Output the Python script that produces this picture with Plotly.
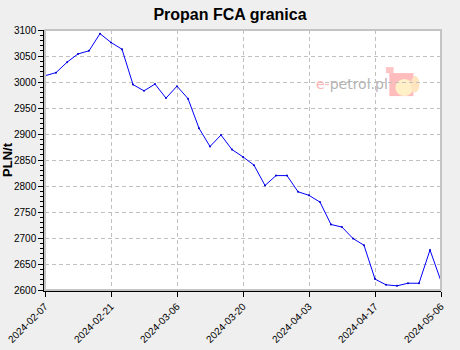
import plotly.graph_objects as go

dates = [
    "2024-02-07", "2024-02-09", "2024-02-12", "2024-02-14", "2024-02-16", "2024-02-19",
    "2024-02-21", "2024-02-23", "2024-02-26", "2024-02-28", "2024-03-01", "2024-03-04",
    "2024-03-06", "2024-03-08", "2024-03-11", "2024-03-13", "2024-03-15", "2024-03-18",
    "2024-03-20", "2024-03-22", "2024-03-25", "2024-03-27", "2024-03-29", "2024-04-02",
    "2024-04-03", "2024-04-05", "2024-04-08", "2024-04-10", "2024-04-12", "2024-04-15",
    "2024-04-17", "2024-04-19", "2024-04-22", "2024-04-24", "2024-04-26", "2024-04-29",
    "2024-05-06",
]
prices = [
    3012, 3018, 3038, 3054, 3060, 3093, 3076, 3063, 2995, 2983, 2996, 2969,
    2992, 2968, 2911, 2876, 2898, 2870, 2856, 2840, 2801, 2820, 2820, 2789,
    2782, 2769, 2726, 2721, 2699, 2686, 2621, 2610, 2608, 2613, 2613, 2677,
    2617,
]
tick_labels = ["2024-02-07", "2024-02-21", "2024-03-06", "2024-03-20",
               "2024-04-03", "2024-04-17", "2024-05-06"]

title_text = "Propan FCA granica"
y_title = "PLN/t"

fig = go.Figure()
fig.add_trace(go.Scatter(
    x=dates, y=prices, mode="lines+markers",
    line=dict(color="#0000ff", width=1),
    marker=dict(color="#0000cc", size=2),
    hoverinfo="x+y",
))

font = "Liberation Sans, Arial, sans-serif"
grid = "#c0c0c0"

fig.update_layout(
    width=460, height=350,
    margin=dict(l=45, r=19, t=30, b=60),
    paper_bgcolor="#efefef",
    plot_bgcolor="#ffffff",
    showlegend=False,
    font=dict(family=font, color="#000000", size=10),
    title=dict(text="<b>" + title_text + "</b>", x=0.5, xanchor="center",
               y=1 - 14 / 350, yanchor="middle",
               font=dict(family=font, size=16, color="#000000")),
)

fig.update_xaxes(
    type="category", automargin=False,
    range=[0, len(dates) - 1],
    tickmode="array", tickvals=tick_labels, ticktext=tick_labels,
    tickangle=-45, tickfont=dict(size=10, family=font),
    ticks="outside", ticklen=5, tickcolor="#000000",
    showline=True, linecolor="#000000", linewidth=1.5,
    showgrid=True, gridcolor=grid, gridwidth=1, griddash="4px,3px",
    zeroline=False,
)
fig.update_yaxes(
    automargin=False,
    range=[2600, 3100], dtick=50, tick0=2600,
    tickfont=dict(size=10, family=font),
    ticks="outside", ticklen=5, tickcolor="#000000",
    minor=dict(dtick=10, ticks="outside", ticklen=3, tickcolor="#000000", showgrid=False),
    showline=True, linecolor="#000000", linewidth=1.5,
    showgrid=True, gridcolor=grid, gridwidth=1, griddash="4px,3px",
    zeroline=False,
    title=dict(text="<b>" + y_title + "</b>", font=dict(size=13, family=font), standoff=3),
)

shapes = [
    dict(type="rect", xref="paper", yref="paper", x0=0, x1=1, y0=0, y1=1,
         line=dict(color="#c4c4c4", width=2), fillcolor="rgba(0,0,0,0)", layer="above"),
]

logo_rects = [
    ((396, 50), (405, 58), "#ffc4c4"),
    ((400, 58), (428, 89), "#ffbcbc"),
]
for (xa, ya), (xb, yb), col in logo_rects:
    shapes.append(dict(type="rect", xref="paper", yref="paper",
                       x0=xa / 460, x1=xb / 460,
                       y0=(350 - yb) / 350, y1=(350 - ya) / 350,
                       line=dict(width=0), fillcolor=col, layer="below"))
shapes.append(dict(type="circle", xref="paper", yref="paper",
                   x0=407 / 460, x1=428 / 460, y0=(350 - 89) / 350, y1=(350 - 66) / 350,
                   line=dict(width=0), fillcolor="#fff0c8", layer="below"))
shapes.append(dict(type="circle", xref="paper", yref="paper",
                   x0=425 / 460, x1=435 / 460, y0=(350 - 84) / 350, y1=(350 - 62) / 350,
                   line=dict(width=0), fillcolor="#ffe4c0", layer="below"))
fig.update_layout(shapes=shapes)

fig.add_annotation(
    xref="paper", yref="paper", x=312 / 460, y=1 - 73 / 350,
    xanchor="left", yanchor="middle", showarrow=False,
    text="<span style='color:#ffb4b4'>e-</span>petrol.pl",
    font=dict(family="DejaVu Sans, sans-serif",
              size=14, color="#b4b4b4"),
)

fig.write_html("out.html")
